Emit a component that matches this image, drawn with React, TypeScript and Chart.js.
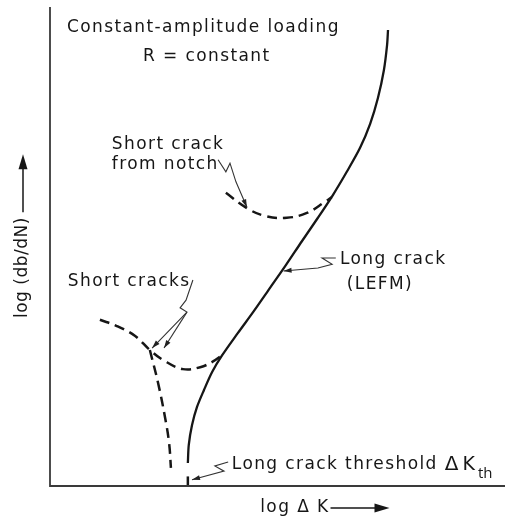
import React, { useEffect, useRef } from "react";
import { Chart, registerables } from "chart.js";
Chart.register(...registerables);

// Schematic curves, in units of log ΔK (x) and log(da/dN) (y), both 0..10
const longCrackX = [3.01, 3.03, 3.1, 3.21, 3.36, 3.54, 3.76, 4.1, 4.45, 4.8, 5.15, 5.5, 5.85, 6.18, 6.48, 6.77, 6.99, 7.16, 7.29, 7.36, 7.38];
const longCrackY = [0.48, 0.86, 1.27, 1.65, 2.0, 2.38, 2.73, 3.19, 3.65, 4.13, 4.61, 5.11, 5.6, 6.08, 6.56, 7.06, 7.56, 8.1, 8.68, 9.21, 9.52];

const thresholdX = [3.01, 3.01];
const thresholdY = [0.0, 0.2];

const shortCrackX = [1.09, 1.46, 1.86, 2.18, 2.47, 2.9, 3.28, 3.56, 3.76];
const shortCrackY = [3.47, 3.34, 3.13, 2.84, 2.63, 2.44, 2.48, 2.6, 2.73];

const shortBranchX = [2.18, 2.36, 2.51, 2.6, 2.64];
const shortBranchY = [2.84, 2.15, 1.44, 0.9, 0.38];

const notchX = [3.84, 4.3, 4.69, 5.17, 5.61, 6.0, 6.15];
const notchY = [6.12, 5.8, 5.64, 5.6, 5.7, 5.93, 6.03];

// Labels (text, anchor x, anchor y)
const labelText = [
  "Constant-amplitude loading",
  "R = constant",
  "Short crack",
  "from notch",
  "Long crack",
  "(LEFM)",
  "Short cracks",
  "Long crack threshold",
];
const labelX = [0.37, 2.03, 1.35, 1.35, 6.33, 6.48, 0.39, 3.97];
const labelY = [9.56, 8.96, 7.12, 6.72, 4.72, 4.2, 4.26, 0.44];

const xTitle = "log \u0394 K";
const yTitle = "log (db/dN)";

// Leader lines (polylines, last point gets an arrowhead)
const leaders: { x: number[]; y: number[] }[] = [
  { x: [3.67, 3.84, 3.93, 4.06, 4.3], y: [6.81, 6.56, 6.74, 6.35, 5.82] },
  { x: [3.12, 2.97, 2.84, 2.99, 2.23], y: [4.3, 3.88, 3.72, 3.63, 2.88] },
  { x: [2.99, 2.49], y: [3.63, 2.88] },
  { x: [6.24, 5.94, 6.16, 5.85, 5.1], y: [4.76, 4.76, 4.63, 4.55, 4.49] },
  { x: [3.89, 3.6, 3.8, 3.1], y: [0.5, 0.42, 0.31, 0.13] },
];

const pts = (xs: number[], ys: number[]) => xs.map((x, i) => ({ x, y: ys[i] }));

const INK = "#161616";
const FONT = '"DejaVu Sans", sans-serif';
const SPACING = "1.4px";

function arrowHead(ctx: CanvasRenderingContext2D, x0: number, y0: number, x1: number, y1: number, len: number, wid: number) {
  const a = Math.atan2(y1 - y0, x1 - x0);
  ctx.beginPath();
  ctx.moveTo(x1, y1);
  ctx.lineTo(x1 - len * Math.cos(a) + wid * Math.sin(a), y1 - len * Math.sin(a) - wid * Math.cos(a));
  ctx.lineTo(x1 - len * Math.cos(a) - wid * Math.sin(a), y1 - len * Math.sin(a) + wid * Math.cos(a));
  ctx.closePath();
  ctx.fill();
}

const decor = {
  id: "decor",
  afterDraw(chart: any) {
    const { ctx, chartArea } = chart;
    const xs = chart.scales.x;
    const ys = chart.scales.y;
    const px = (v: number) => xs.getPixelForValue(v);
    const py = (v: number) => ys.getPixelForValue(v);
    ctx.save();
    // axes
    ctx.strokeStyle = "#3a3a3a";
    ctx.lineWidth = 1.8;
    ctx.beginPath();
    ctx.moveTo(chartArea.left, chartArea.top);
    ctx.lineTo(chartArea.left, chartArea.bottom);
    ctx.lineTo(chartArea.right - 3, chartArea.bottom);
    ctx.stroke();

    // labels
    ctx.fillStyle = INK;
    ctx.font = `17px ${FONT}`;
    (ctx as any).letterSpacing = SPACING;
    ctx.textBaseline = "middle";
    ctx.textAlign = "left";
    labelText.forEach((t, i) => {
      ctx.fillText(t, px(labelX[i]), py(labelY[i]));
    });
    // threshold suffix: Δ K with subscript th
    const thIdx = labelText.length - 1;
    const ty = py(labelY[thIdx]);
    let cx = px(labelX[thIdx]) + ctx.measureText(labelText[thIdx]).width + 7;
    (ctx as any).letterSpacing = "0px";
    ctx.font = `20px ${FONT}`;
    ctx.fillText("\u0394", cx, ty);
    cx += ctx.measureText("\u0394").width + 4;
    ctx.font = `19px ${FONT}`;
    ctx.fillText("K", cx, ty);
    cx += ctx.measureText("K").width + 3;
    ctx.font = `15px "Open Sans", sans-serif`;
    ctx.fillText("th", cx, ty + 9);

    // x title with arrow
    ctx.font = `17px ${FONT}`;
    (ctx as any).letterSpacing = SPACING;
    const xtX = px(4.59);
    const xtY = chartArea.bottom + 22;
    ctx.fillText(xTitle, xtX, xtY);
    const xtW = ctx.measureText(xTitle).width;
    ctx.strokeStyle = INK;
    ctx.lineWidth = 1.5;
    ctx.beginPath();
    ctx.moveTo(xtX + xtW + 1, xtY);
    ctx.lineTo(xtX + xtW + 56, xtY);
    ctx.stroke();
    arrowHead(ctx, xtX + xtW + 1, xtY, xtX + xtW + 60, xtY, 15, 4.5);

    // y title with arrow
    ctx.save();
    ctx.translate(chartArea.left - 27, py(4.56));
    ctx.rotate(-Math.PI / 2);
    ctx.textAlign = "center";
    ctx.font = `17px ${FONT}`;
    (ctx as any).letterSpacing = "0.5px";
    ctx.fillText(yTitle, 0, 0);
    const ytW = ctx.measureText(yTitle).width;
    ctx.beginPath();
    ctx.moveTo(ytW / 2 + 5, 0);
    ctx.lineTo(ytW / 2 + 58, 0);
    ctx.stroke();
    arrowHead(ctx, ytW / 2 + 5, 0, ytW / 2 + 63, 0, 15, 4.5);
    ctx.restore();

    // leaders
    ctx.strokeStyle = "#333";
    ctx.fillStyle = "#222";
    ctx.lineWidth = 1.1;
    leaders.forEach((l) => {
      ctx.beginPath();
      l.x.forEach((x, i) => {
        if (i === 0) ctx.moveTo(px(x), py(l.y[i]));
        else ctx.lineTo(px(x), py(l.y[i]));
      });
      ctx.stroke();
      const n = l.x.length;
      arrowHead(ctx, px(l.x[n - 2]), py(l.y[n - 2]), px(l.x[n - 1]), py(l.y[n - 1]), 8, 2.5);
    });
    ctx.restore();
  },
};

export default function App() {
  const ref = useRef<HTMLCanvasElement | null>(null);
  useEffect(() => {
    if (!ref.current) return;
    const dashed = [10, 6];
    const common = { showLine: true, borderColor: INK, pointRadius: 0 };
    const chart = new Chart(ref.current, {
      type: "scatter",
      data: {
        datasets: [
          { ...common, data: pts(longCrackX, longCrackY), borderWidth: 2.3, tension: 0.3 },
          { ...common, data: pts(thresholdX, thresholdY), borderWidth: 2.5 },
          { ...common, data: pts(shortCrackX, shortCrackY), borderWidth: 2.5, borderDash: dashed, tension: 0.4 },
          { ...common, data: pts(shortBranchX, shortBranchY), borderWidth: 2.5, borderDash: dashed, tension: 0.4 },
          { ...common, data: pts(notchX, notchY), borderWidth: 2.5, borderDash: dashed, tension: 0.4 },
        ],
      },
      options: {
        responsive: false,
        animation: false,
        layout: { padding: { left: 50, top: 7, right: 0, bottom: 33 } },
        plugins: { legend: { display: false }, tooltip: { enabled: false } },
        scales: {
          x: { type: "linear", min: 0, max: 10, display: false },
          y: { type: "linear", min: 0, max: 10, display: false },
        },
      },
      plugins: [decor],
    });
    return () => chart.destroy();
  }, []);
  return (
    <div style={{ position: "fixed", left: 0, top: 0, width: 508, height: 519, background: "#fff" }}>
      <canvas ref={ref} width={508} height={519} style={{ display: "block" }} />
    </div>
  );
}
